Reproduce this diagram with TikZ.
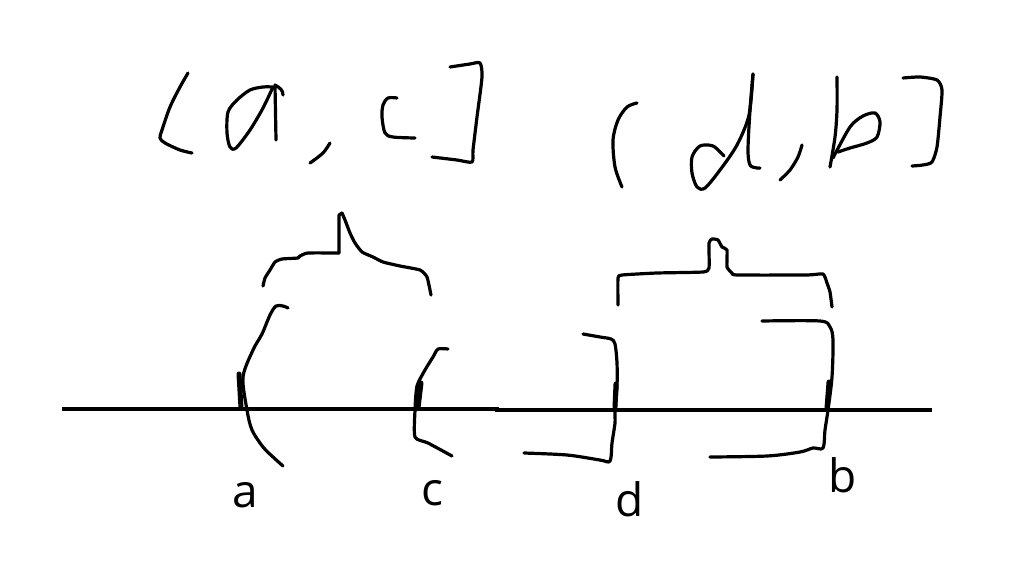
\documentclass[tikz,border=0pt]{standalone}
\usepackage{fontspec}
\setmainfont{Open Sans}
\begin{document}
\begin{tikzpicture}[x=1pt,y=-1pt,
  ink/.style={line width=3.2pt,line cap=round,line join=round},
  axis/.style={line width=4.2pt},
  tick/.style={line width=5pt,line cap=round},
  lbl/.style={font=\fontsize{46}{46}\selectfont,anchor=base,inner sep=0pt}]
\useasboundingbox[fill=white] (0,0) rectangle (1022,573);
% axis
\draw[axis] (62,409) -- (497,409) -- (497,410) -- (932,410);
% ticks
\draw[tick] (239,374) -- (241,408);
\draw[tick] (421,383) -- (418,408);
\draw[tick] (616,384) -- (615,407);
\draw[tick] (829,382) -- (827,408);
% bracket at a
\draw[ink] plot[smooth,tension=0.5] coordinates {(288,308) (283,306) (276,306) (270,315) (262,334) (253,350) (243,377) (247,410) (252,430) (263,447) (273,457) (283,466)};
% bracket at c
\draw[ink] plot[smooth,tension=0.4] coordinates {(448,349) (438,349) (433,357) (425,370) (417,386) (415,410) (415,437) (428,443) (452,456)};
% bracket at d
\draw[ink] plot[smooth,tension=0.5] coordinates {(583,334) (600,337) (611,339) (615,344) (617,363) (617,387) (615,412) (615,423) (612,443) (610,461) (600,460) (567,455) (524,453)};
% bracket at b
\draw[ink] plot[smooth,tension=0.5] coordinates {(762,321) (820,321) (830,327) (833,340) (832,377) (828,410) (825,430) (823,448) (813,448) (800,452) (767,456) (710,457)};
% brace over a-c
\draw[ink] plot[smooth,tension=0.3] coordinates {(263,286) (265,278) (270,270) (275,262) (282,259) (298,258) (300,256) (308,253) (339,253)};
\draw[ink] (339,253) -- (339,215) -- (342,213);
\draw[ink] plot[smooth,tension=0.3] coordinates {(342,213) (345,220) (350,233) (355,243) (362,252) (373,257) (383,262) (400,266) (420,270) (427,277) (431,295)};
% brace over d-b
\draw[ink] plot[smooth,tension=0.3] coordinates {(618,305) (618,278) (622,275) (657,273) (703,272) (709,268) (709,243) (712,239) (718,240) (722,247) (727,250) (727,267) (732,273) (737,275) (807,275) (823,274) (827,283) (830,292) (832,307)};
% handwritten "[a, c]"
\draw[ink] plot[smooth,tension=0.5] coordinates {(188,73) (180,87) (170,107) (162,130) (160,138) (165,143) (180,150) (192,153)};
\draw[ink] plot[smooth,tension=0.5] coordinates {(273,87) (263,87) (250,90) (237,100) (228,112) (227,133) (230,147) (236,148) (250,130) (263,108) (273,87)};
\draw[ink] (276,140) -- (275,85) .. controls (280,88) and (283,90) .. (283,95);
\draw[ink] plot[smooth,tension=0.5] coordinates {(330,143) (323,153) (310,163)};
\draw[ink] plot[smooth,tension=0.5] coordinates {(397,98) (388,98) (383,105) (382,117) (385,133) (393,137) (415,138)};
\draw[ink] plot[smooth,tension=0.4] coordinates {(450,67) (470,64) (480,63) (482,77) (477,117) (473,150) (472,162) (457,160) (432,157)};
% handwritten "(d, b]"
\draw[ink] plot[smooth,tension=0.5] coordinates {(637,103) (627,107) (618,120) (613,140) (615,167) (622,187)};
\draw[ink] plot[smooth,tension=0.5] coordinates {(724,156) (713,146) (700,146) (692,157) (692,173) (697,187) (705,188) (720,170) (737,145) (749,115) (753,74)};
\draw[ink] plot[smooth,tension=0.5] coordinates {(753,74) (750,110) (748,150) (750,165) (757,168) (760,168)};
\draw[ink] plot[smooth,tension=0.5] coordinates {(802,145) (798,157) (790,170) (780,180)};
\draw[ink] plot[smooth,tension=0.5] coordinates {(837,77) (837,110) (835,137) (830,167)};
\draw[ink] plot[smooth,tension=0.5] coordinates {(833,158) (850,127) (863,116) (875,113) (880,122) (877,137) (867,143) (850,148) (838,152)};
\draw[ink] plot[smooth,tension=0.4] coordinates {(903,78) (920,77) (937,80) (942,90) (940,117) (937,147) (932,162) (923,165) (912,166)};
% labels
\node[lbl] (la) at (245,507) {a};
\node[lbl] (lc) at (432,505) {c};
\node[lbl] (ld) at (630,516) {d};
\node[lbl] (lb) at (843,492) {b};
\end{tikzpicture}
\end{document}
